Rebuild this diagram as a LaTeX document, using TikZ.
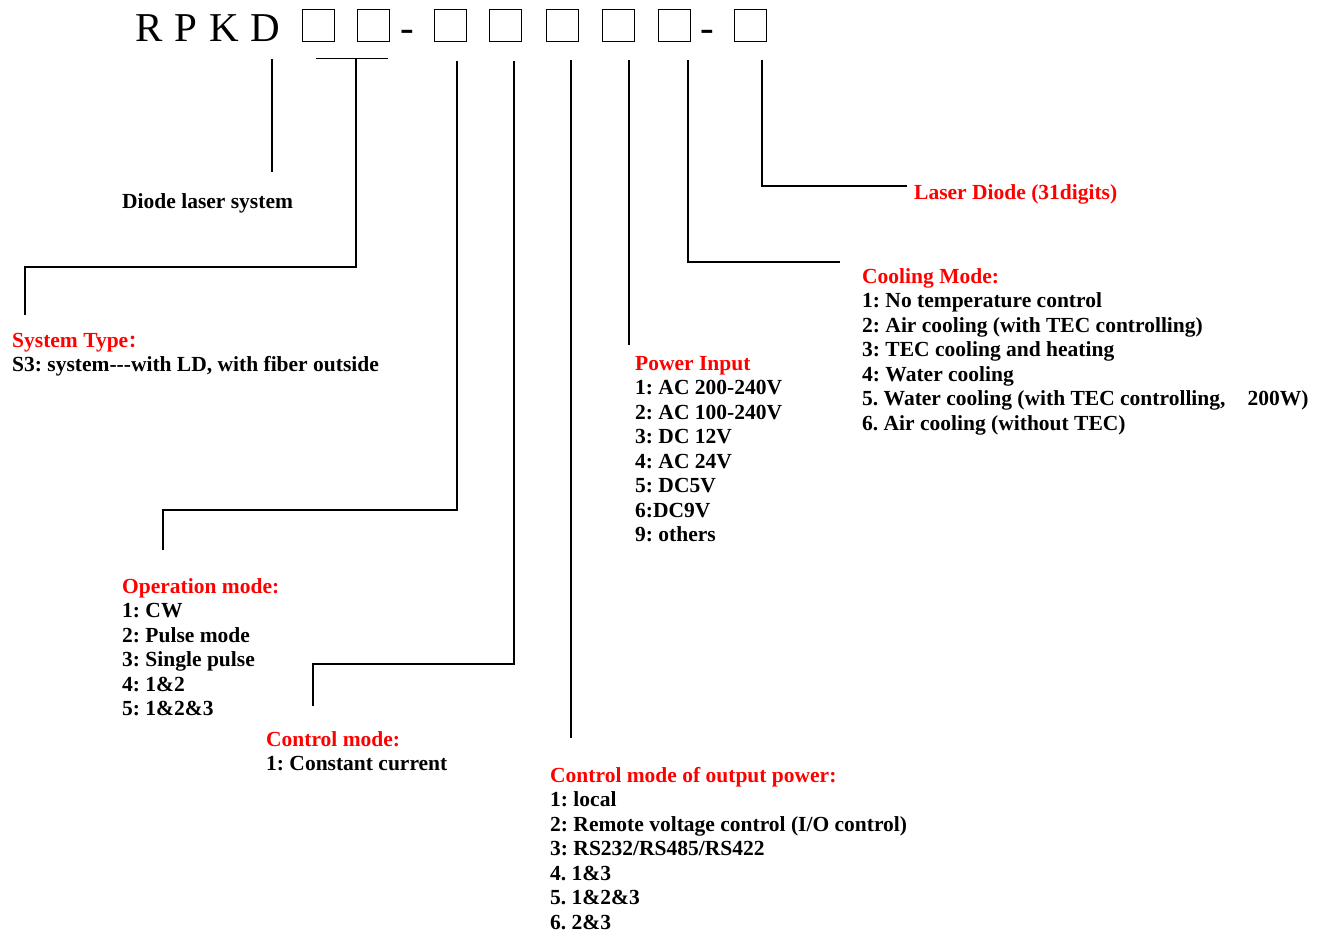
\documentclass[tikz,border=0pt]{standalone}
\usepackage{fontspec}
\setmainfont{Liberation Serif}
\newfontfamily\cjk{Noto Sans CJK SC}
\usepackage{xcolor}
\definecolor{codeRed}{RGB}{255, 0, 0}
\frenchspacing

\tikzset{
    lbl/.style={anchor=base west, inner sep=0pt, align=left, font=\fontsize{21.5}{24.5}\selectfont\bfseries},
    head/.style={lbl, text=codeRed},
    digit/.style={draw, line width=0.9pt, minimum size=32pt, inner sep=0pt},
    big/.style={inner sep=0pt, font=\fontsize{41}{41}\selectfont},
    lead/.style={line width=1.5pt}
}

\begin{document}
\begin{tikzpicture}[x=1pt, y=-1pt]
    \useasboundingbox (0,0) rectangle (1324,933);

    % Code
    \node[big, anchor=base west] (code) at (135,42) {R\kern12pt P\kern12pt K\kern12pt D};
    \node[digit] (b1) at (318,25.5) {};
    \node[digit] (b2) at (373,25.5) {};
    \node[big, anchor=base] (d1) at (407,42) {-};
    \node[digit] (b3) at (450,25.5) {};
    \node[digit] (b4) at (505,25.5) {};
    \node[digit] (b5) at (562,25.5) {};
    \node[digit] (b6) at (618,25.5) {};
    \node[digit] (b7) at (674,25.5) {};
    \node[big, anchor=base] (d2) at (707,42) {-};
    \node[digit] (b8) at (750,25.5) {};

    % Labels (placed at the baseline of their last line)
    \node[lbl] (diode) at (122,209) {Diode laser system};
    \node[head] (ld) at (914,200) {Laser Diode (31digits)};
    \node[lbl] (cool) at (862,430) {\textcolor{codeRed}{Cooling Mode:}\\
        1: No temperature control\\
        2: Air cooling (with TEC controlling)\\
        3: TEC cooling and heating\\
        4: Water cooling\\
        5. Water cooling (with TEC controlling,\hspace{22pt}200W)\\
        6. Air cooling (without TEC)};
    \node[lbl] (sys) at (12,371.5) {\textcolor{codeRed}{System Type{\cjk\fontsize{17}{17}\selectfont ：}}\\
        S3: system-{}-{}-with LD, with fiber outside};
    \node[lbl] (pwr) at (635,541.5) {\textcolor{codeRed}{Power Input}\\
        1: AC 200-240V\\
        2: AC 100-240V\\
        3: DC 12V\\
        4: AC 24V\\
        5: DC5V\\
        6:DC9V\\
        9: others};
    \node[lbl] (op) at (122,715.5) {\textcolor{codeRed}{Operation mode:}\\
        1: CW\\
        2: Pulse mode\\
        3: Single pulse\\
        4: 1\&2\\
        5: 1\&2\&3};
    \node[lbl] (ctl) at (266,770.5) {\textcolor{codeRed}{Control mode:}\\
        1: Constant current};
    \node[lbl] (out) at (550,929) {\textcolor{codeRed}{Control mode of output power:}\\
        1: local\\
        2: Remote voltage control (I/O control)\\
        3: RS232/RS485/RS422\\
        4. 1\&3\\
        5. 1\&2\&3\\
        6. 2\&3};

    % Leaders
    \coordinate (u0) at (272,59);
    \coordinate (v0) at (272,172);
    \coordinate (u1) at ([xshift=-2pt,yshift=-16.5pt]b1.south);
    \coordinate (u2) at ([xshift=15pt,yshift=-16.5pt]b2.south);
    \coordinate (m2) at (356,58);
    \coordinate (v2) at (25,315);
    \coordinate (u3) at ([xshift=7pt,yshift=-19pt]b3.south);
    \coordinate (v3) at (163,550);
    \coordinate (u4) at ([xshift=9pt,yshift=-19pt]b4.south);
    \coordinate (v4) at (313,706);
    \coordinate (u5) at ([xshift=9pt,yshift=-18pt]b5.south);
    \coordinate (v5) at (571,738);
    \coordinate (u6) at ([xshift=11pt,yshift=-18pt]b6.south);
    \coordinate (v6) at (629,345);
    \coordinate (u7) at ([xshift=14pt,yshift=-18pt]b7.south);
    \coordinate (v7) at (840,262);
    \coordinate (u8) at ([xshift=12pt,yshift=-18pt]b8.south);
    \coordinate (v8) at (907,186);

    \draw[lead] (u0) -- (v0);
    \draw[lead] (u1) -- (u2);
    \draw[lead] (m2) -- ++(0,209) -| (v2);
    \draw[lead] (u3) |- (v3 |- 0,510) -- (v3);
    \draw[lead] (u4) |- (v4 |- 0,664) -- (v4);
    \draw[lead] (u5) -- (v5);
    \draw[lead] (u6) -- (v6);
    \draw[lead] (u7) |- (v7);
    \draw[lead] (u8) |- (v8);
\end{tikzpicture}
\end{document}
